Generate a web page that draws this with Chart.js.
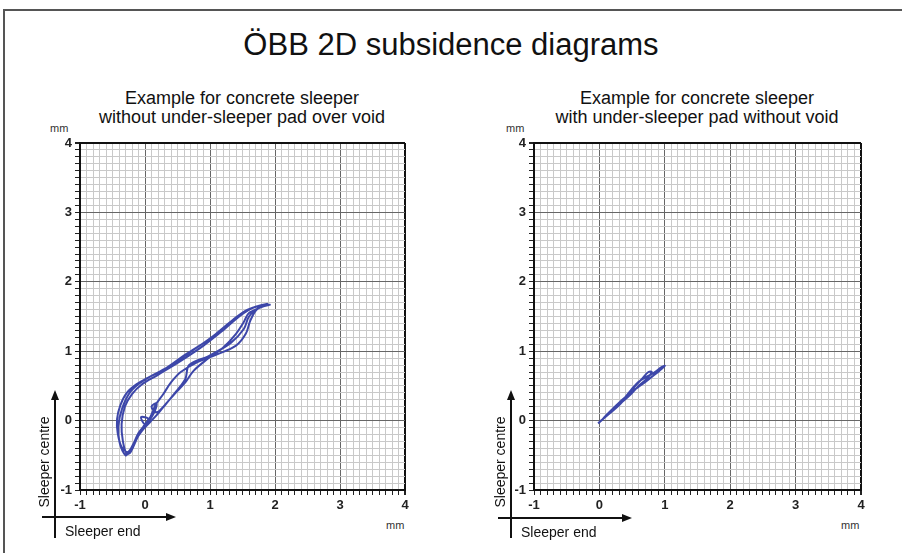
<!DOCTYPE html>
<html>
<head>
<meta charset="utf-8">
<script src="https://cdn.jsdelivr.net/npm/chart.js@4"></script>
<style>
  body { margin: 0; width: 902px; height: 553px; background: #fff; position: relative; overflow: hidden;
         font-family: "Liberation Sans", Arial, sans-serif; color: #111; }
  .abs { position: absolute; }
  .title { left: 0; width: 902px; top: 27px; text-align: center; font-size: 31px; }
  .sub { width: 380px; text-align: center; font-size: 18px; line-height: 19px; top: 89px; }
  .mm { font-size: 11px; color: #333; }
  .vline { width: 2px; background: #111; }
  .hline { height: 2px; background: #111; }
  .up { width: 0; height: 0; border-left: 4px solid transparent; border-right: 4px solid transparent; border-bottom: 10px solid #111; }
  .right { width: 0; height: 0; border-top: 4px solid transparent; border-bottom: 4px solid transparent; border-left: 10px solid #111; }
  .lbl { font-size: 14px; white-space: nowrap; }
  .rot { transform: translate(-50%, -50%) rotate(-90deg); }
  .wrap { position: absolute; }
</style>
</head>
<body>
<div class="abs" style="left:3px;top:9px;width:899px;height:2px;background:#555"></div>
<div class="abs" style="left:3px;top:9px;width:2px;height:544px;background:#555"></div>

<div class="abs title">ÖBB 2D subsidence diagrams</div>
<div class="abs sub" style="left:52px">Example for concrete sleeper<br>without under-sleeper pad over void</div>
<div class="abs sub" style="left:507px">Example for concrete sleeper<br>with under-sleeper pad without void</div>

<div class="abs mm" style="left:50px;top:122px">mm</div>
<div class="abs mm" style="left:506px;top:122px">mm</div>
<div class="abs mm" style="left:386px;top:519px">mm</div>
<div class="abs mm" style="left:841px;top:519px">mm</div>

<div class="wrap" style="left:20px;top:125px;width:410px;height:400px"><canvas id="chart-void" width="410" height="400"></canvas></div>
<div class="wrap" style="left:474px;top:125px;width:412px;height:400px"><canvas id="chart-pad" width="412" height="400"></canvas></div>

<!-- arrows, left -->
<div class="abs vline" style="left:54px;top:398px;height:140px"></div>
<div class="abs up" style="left:51px;top:390px"></div>
<div class="abs hline" style="left:42px;top:516px;width:128px"></div>
<div class="abs right" style="left:166px;top:513px"></div>
<div class="abs lbl" style="left:65px;top:523px">Sleeper end</div>
<div class="abs lbl rot" style="left:44px;top:462px">Sleeper centre</div>

<!-- arrows, right -->
<div class="abs vline" style="left:510px;top:398px;height:140px"></div>
<div class="abs up" style="left:507px;top:390px"></div>
<div class="abs hline" style="left:498px;top:517px;width:128px"></div>
<div class="abs right" style="left:622px;top:514px"></div>
<div class="abs lbl" style="left:521px;top:524px">Sleeper end</div>
<div class="abs lbl rot" style="left:500px;top:462px">Sleeper centre</div>

<script>
// axis range and labelled ticks (mm)
const axisMin = -1;
const axisMax = 4;
const tickLabels = [-1, 0, 1, 2, 3, 4];

// sleeper without under-sleeper pad, over void: sleeper end (x) vs sleeper centre (y)
const voidEnd = [
  -0.25, -0.36, -0.42, -0.43, -0.38, -0.28, -0.12, 0.05, 0.30, 0.62, 1.00, 1.30, 1.50, 1.70, 1.92,
  1.74, 1.60, 1.52, 1.32, 0.98, 0.68, 0.62, 0.48, 0.33, 0.20, 0.08, -0.05, -0.17, -0.25,
  -0.30, -0.39, -0.41, -0.35, -0.22, -0.02, 0.35, 0.70, 1.05, 1.35, 1.58, 1.88,
  1.72, 1.62, 1.55, 1.40, 1.10, 0.80, 0.55, 0.40, 0.28, 0.16, 0.08, -0.02, -0.12, -0.22,
  -0.28, -0.34, -0.36, -0.31, -0.20, -0.05, 0.20, 0.55, 0.90, 1.20, 1.45, 1.65, 1.85,
  1.60, 1.52, 1.40, 1.20, 0.95, 0.75, 0.62, 0.45, 0.30, 0.18, 0.10, 0.18, 0.12, 0.00, -0.06, 0.05,
  -0.10, -0.20, -0.28
];
const voidCentre = [
  -0.48, -0.38, -0.18, 0.02, 0.22, 0.40, 0.53, 0.62, 0.74, 0.95, 1.18, 1.40, 1.55, 1.64, 1.67,
  1.62, 1.50, 1.32, 1.12, 0.93, 0.80, 0.60, 0.42, 0.25, 0.10, -0.02, -0.15, -0.32, -0.46,
  -0.50, -0.32, -0.08, 0.18, 0.42, 0.58, 0.77, 0.99, 1.22, 1.45, 1.60, 1.68,
  1.60, 1.44, 1.25, 1.08, 0.95, 0.84, 0.70, 0.55, 0.38, 0.22, 0.05, -0.08, -0.25, -0.45,
  -0.48, -0.30, -0.05, 0.20, 0.38, 0.52, 0.66, 0.86, 1.08, 1.30, 1.50, 1.62, 1.66,
  1.55, 1.42, 1.25, 1.05, 0.88, 0.72, 0.55, 0.38, 0.22, 0.12, 0.20, 0.25, 0.08, -0.05, 0.05, 0.02,
  -0.18, -0.38, -0.48
];

// sleeper with under-sleeper pad, without void
const padEnd = [
  -0.02, 0.15, 0.30, 0.45, 0.55, 0.65, 0.75, 0.80, 0.72, 0.60, 0.48, 0.35, 0.20, 0.05,
  0.15, 0.35, 0.50, 0.65, 0.80, 0.92, 1.00, 0.95, 0.82, 0.70, 0.60, 0.50, 0.38, 0.25, 0.10, 0.00
];
const padCentre = [
  -0.04, 0.10, 0.22, 0.38, 0.50, 0.60, 0.70, 0.70, 0.60, 0.50, 0.38, 0.27, 0.15, 0.02,
  0.12, 0.30, 0.42, 0.52, 0.63, 0.72, 0.79, 0.77, 0.68, 0.62, 0.56, 0.46, 0.32, 0.20, 0.06, -0.02
];

const isMajor = v => Math.abs(v - Math.round(v)) < 1e-6;

function axis(pos) {
  return {
    type: 'linear',
    position: pos,
    min: axisMin,
    max: axisMax,
    afterFit: s => { if (pos === 'left') s.width = 60; else s.height = 35; },
    border: { display: true, color: '#111', width: 2 },
    grid: {
      color: c => {
        const v = c.tick.value;
        if (v === axisMax) return '#111';
        return isMajor(v) ? '#666' : '#c9c9c9';
      },
      lineWidth: c => (c.tick.value === axisMax ? 2 : 1),
      tickColor: '#222',
      tickLength: 5
    },
    ticks: {
      stepSize: 0.1,
      autoSkip: false,
      maxRotation: 0,
      minRotation: 0,
      padding: 3,
      color: '#222',
      font: { family: 'Liberation Sans', size: 13, weight: 'bold' },
      callback: v => {
        const r = Math.round(v);
        return isMajor(v) && tickLabels.includes(r) ? String(r) : '';
      }
    }
  };
}

function makeChart(id, xs, ys) {
  const pts = xs.map((x, i) => ({ x, y: ys[i] }));
  return new Chart(document.getElementById(id), {
    type: 'scatter',
    data: {
      datasets: [{
        data: pts,
        showLine: true,
        borderColor: '#3d47a9',
        borderWidth: 2,
        tension: 0.35,
        pointRadius: 0
      }]
    },
    options: {
      responsive: false,
      animation: false,
      devicePixelRatio: 1,
      layout: { padding: { top: 18, right: 25, left: 0, bottom: 0 } },
      scales: { x: axis('bottom'), y: axis('left') },
      plugins: { legend: { display: false }, tooltip: { enabled: false } }
    }
  });
}

makeChart('chart-void', voidEnd, voidCentre);
makeChart('chart-pad', padEnd, padCentre);
</script>
</body>
</html>
